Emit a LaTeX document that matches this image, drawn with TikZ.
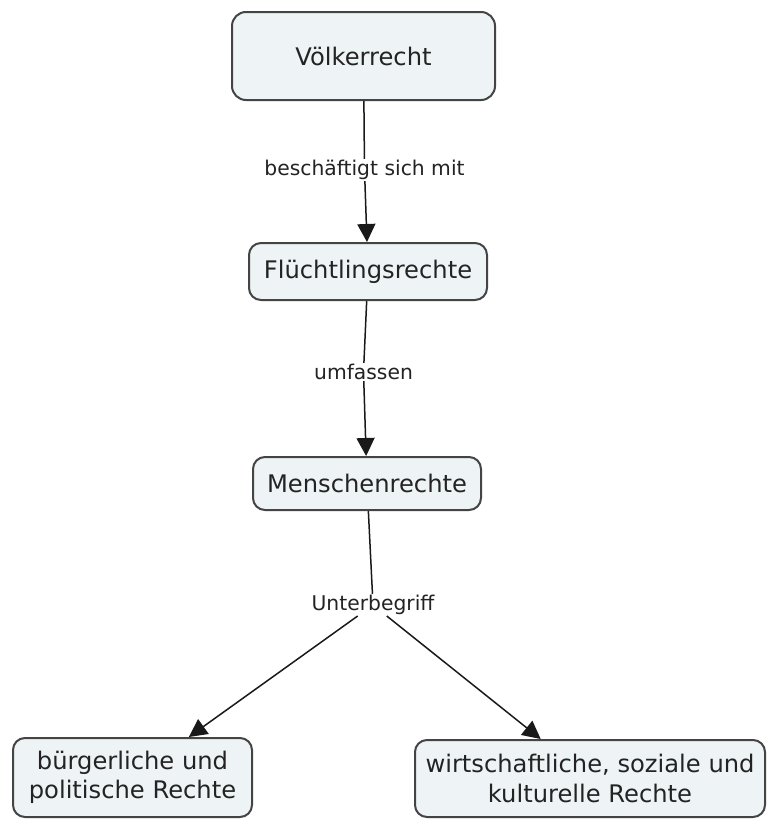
\documentclass[tikz,border=0pt]{standalone}
\usepackage{fontspec}
\setmainfont{DejaVu Sans}
\usetikzlibrary{arrows.meta}
\definecolor{conceptfill}{RGB}{238,243,246}
\definecolor{conceptdraw}{RGB}{68,68,68}
\definecolor{textgray}{RGB}{35,35,35}
\tikzset{
  concept/.style={draw=conceptdraw, line width=2pt, fill=conceptfill,
    rounded corners=12pt, inner sep=0pt, text=textgray, align=center,
    font=\fontsize{24.2}{29.5}\selectfont},
  phrase/.style={inner sep=1pt, fill=white, text=textgray,
    font=\fontsize{20.3}{24}\selectfont},
  link/.style={draw=black!90, line width=1.5pt},
  linkarrow/.style={link, -{Triangle[length=18pt,width=18pt]}}
}
\begin{document}
\begin{tikzpicture}[x=1pt,y=-1pt]
  \useasboundingbox (0,0) rectangle (768,819);
  \fill[white] (0,0) rectangle (768,819);

  % concepts
  \node[concept, minimum width=263pt, minimum height=88pt, rounded corners=14pt]
    (vr) at (363.5,56) {Völkerrecht};
  \node[concept, minimum width=238pt, minimum height=57pt]
    (fr) at (368,271.5) {Flüchtlingsrechte};
  \node[concept, minimum width=228pt, minimum height=53pt]
    (mr) at (367,483.5) {Menschenrechte};
  \node[concept, minimum width=239pt, minimum height=79pt]
    (bl) at (132.5,777.5) {bürgerliche und\\politische Rechte};
  \node[concept, minimum width=350pt, minimum height=77pt]
    (wr) at (590,778.5) {wirtschaftliche, soziale und\\kulturelle Rechte};

  % linking phrases
  \node[phrase] (l1) at (364.5,170) {beschäftigt sich mit};
  \node[phrase] (l2) at (363.5,372) {umfassen};
  \node[phrase] (l3) at (373,605) {Unterbegriff};

  % connectors
  \draw[link] (vr) -- (l1);
  \draw[linkarrow] (l1) -- (fr);
  \draw[link] (fr) -- (l2);
  \draw[linkarrow] (l2) -- (mr);
  \draw[link] (mr) -- (l3);
  \draw[linkarrow] (l3) -- (bl);
  \draw[linkarrow] (l3) -- (wr);
\end{tikzpicture}
\end{document}
